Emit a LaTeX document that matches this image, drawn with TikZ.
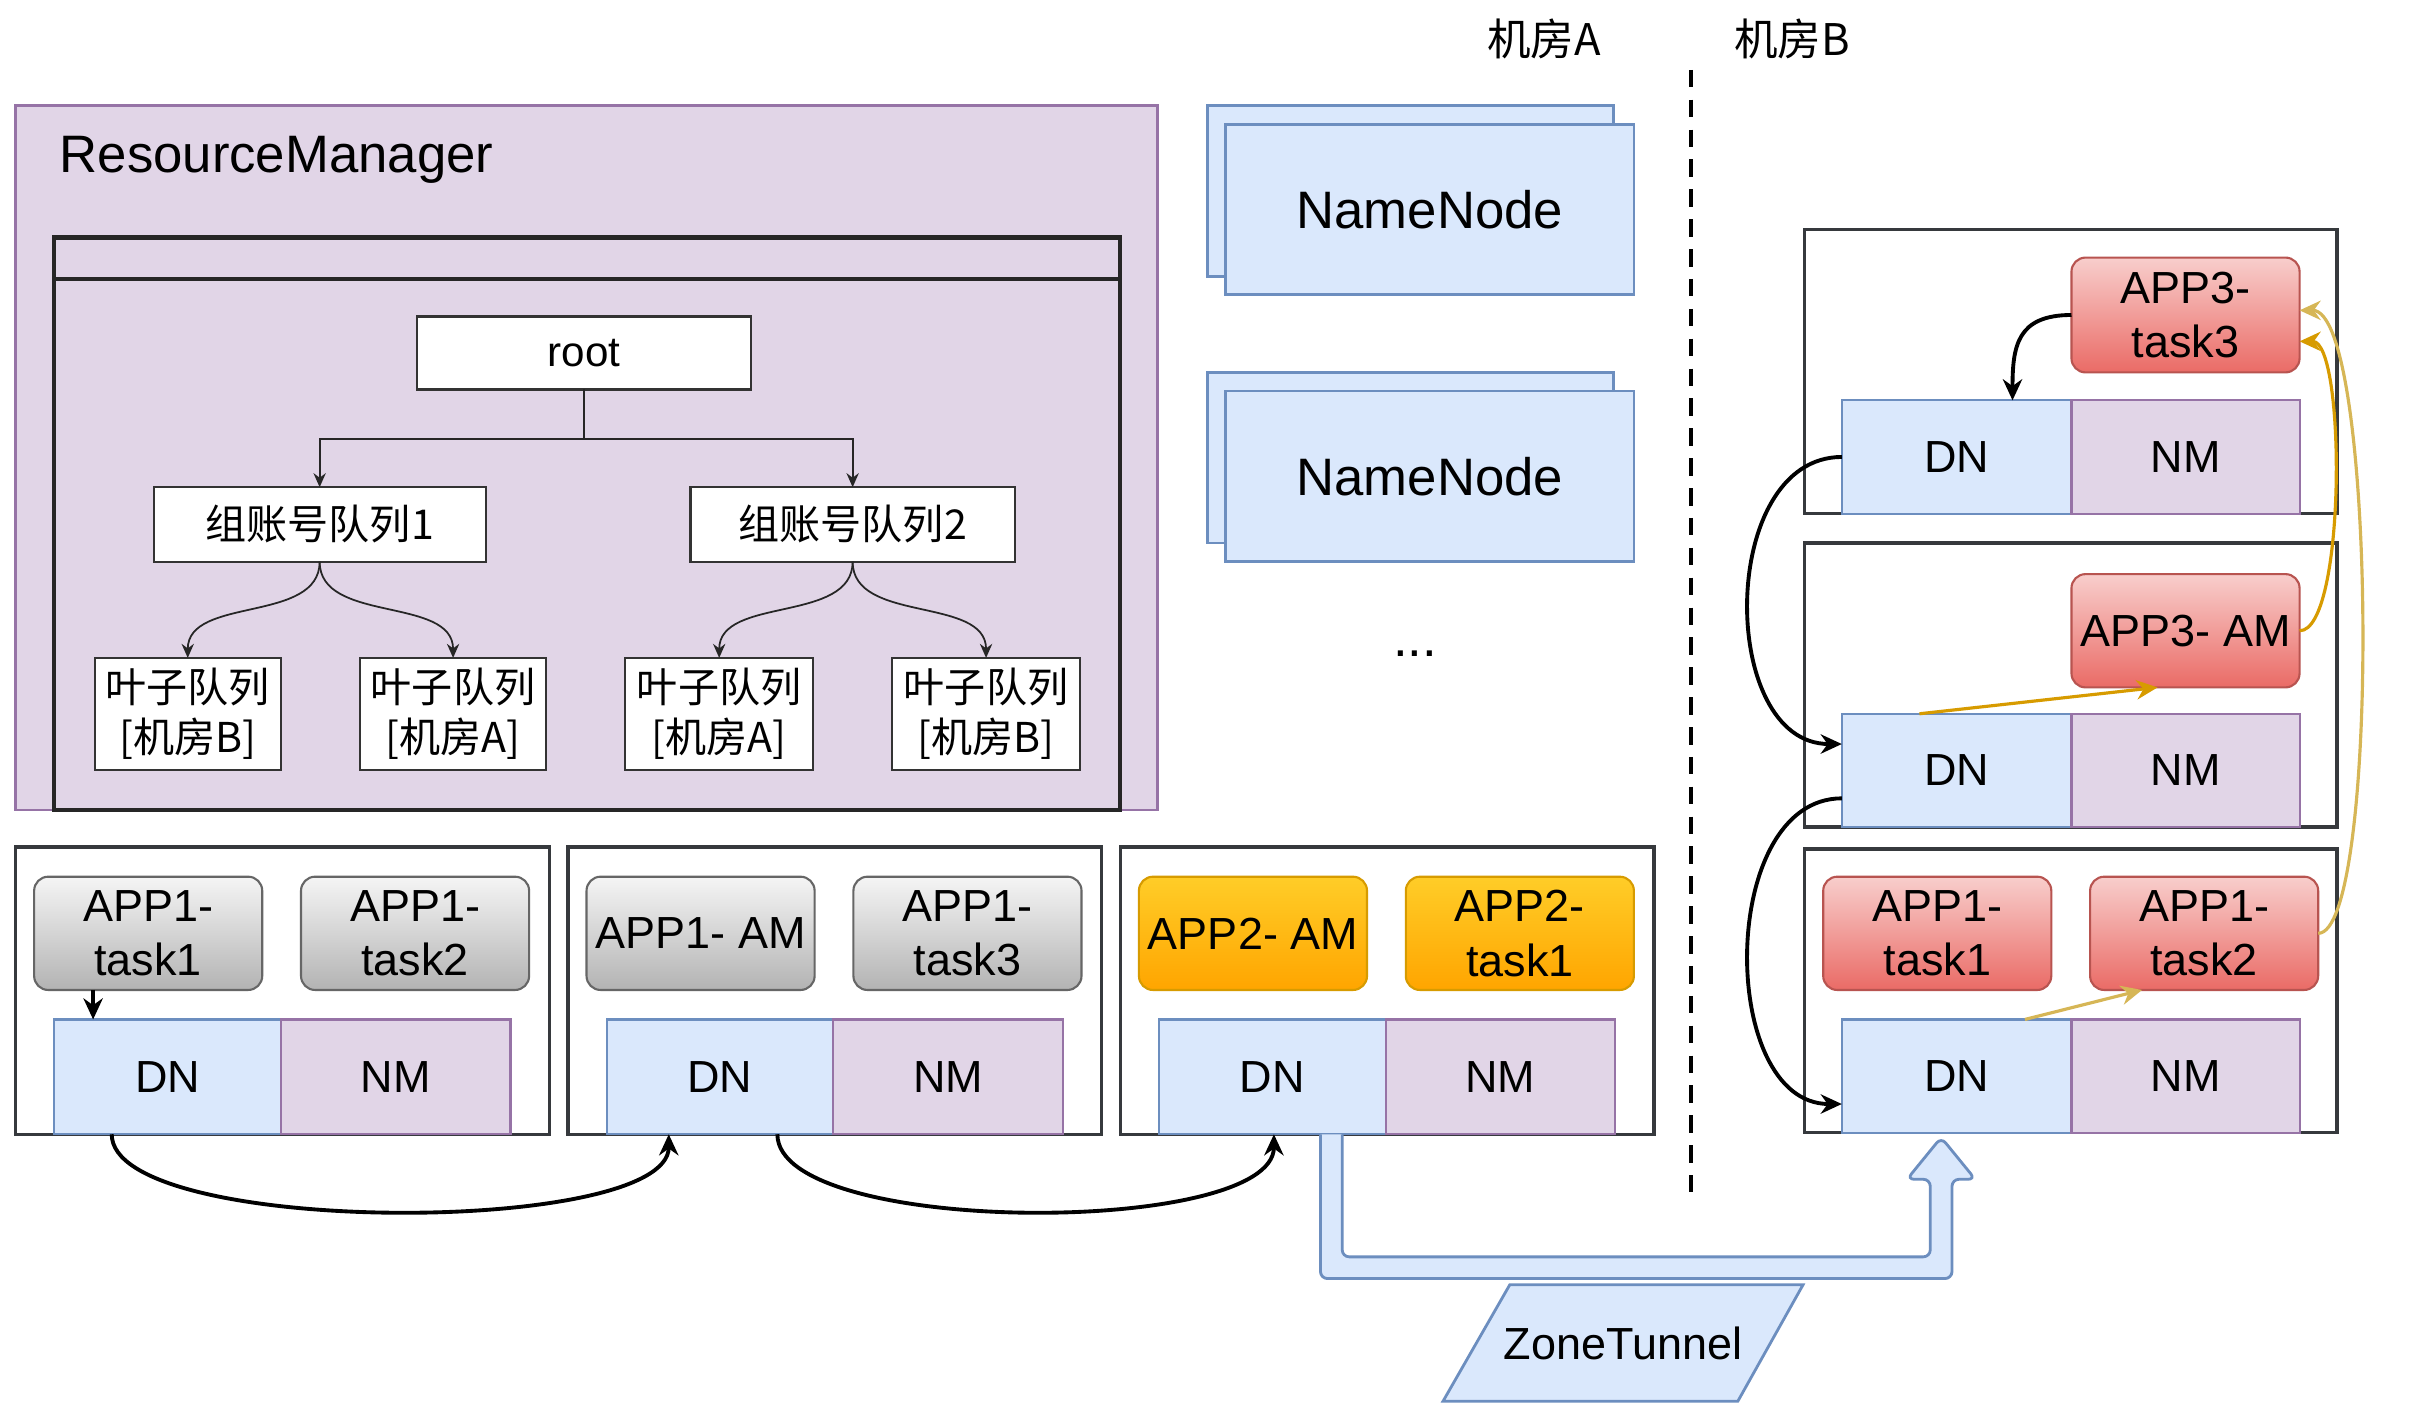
\documentclass[tikz,border=0pt]{standalone}
\usepackage{fontspec}
\setmainfont{Liberation Sans}
\newfontfamily\cjk{Noto Sans CJK SC}
\usepackage{tikz}
\usetikzlibrary{arrows.meta, calc, fit, positioning}
\definecolor{rmfill}{HTML}{E1D5E7}
\definecolor{rmline}{HTML}{9673A6}
\definecolor{dnfill}{HTML}{DAE8FC}
\definecolor{dnline}{HTML}{6C8EBF}
\definecolor{grayhi}{HTML}{F5F5F5}
\definecolor{graylo}{HTML}{B3B3B3}
\definecolor{grayline}{HTML}{666666}
\definecolor{redhi}{HTML}{F8CECC}
\definecolor{redlo}{HTML}{EA6B66}
\definecolor{redline}{HTML}{B85450}
\definecolor{orahi}{HTML}{FFCD28}
\definecolor{oralo}{HTML}{FFA500}
\definecolor{oraline}{HTML}{D79B00}
\definecolor{yelline}{HTML}{D6B656}
\definecolor{hostline}{HTML}{36393D}

\tikzset{
	box/.style={inner sep=0pt, outer sep=0pt},
	txt/.style={label={[font=\fontsize{12.8}{15.5}\selectfont, align=center]center:{#1}}},
	bigtxt/.style={label={[font=\fontsize{15}{18}\selectfont]center:{#1}}},
	qtxt/.style={label={[font=\cjk\fontsize{11.7}{14.1}\selectfont, align=center]center:{#1}}},
	host/.style={box, draw=hostline, line width=1pt, fill=white},
	dnbox/.style={box, draw=dnline, fill=dnfill, line width=0.6pt},
	nmbox/.style={box, draw=rmline, fill=rmfill, line width=0.6pt},
	appbox/.style={box, rounded corners=4pt, line width=0.6pt},
	appgray/.style={appbox, draw=grayline, top color=grayhi, bottom color=graylo},
	appred/.style={appbox, draw=redline, top color=redhi, bottom color=redlo},
	appora/.style={appbox, draw=oraline, top color=orahi, bottom color=oralo},
	qbox/.style={box, draw=black!80, fill=white, line width=0.6pt},
	arr/.style={-{Stealth[length=6pt, width=5.5pt]}, line width=1.1pt},
	qarr/.style={-{Stealth[length=4pt, width=3.5pt]}, line width=0.5pt, black!85}
}

\begin{document}
\begin{tikzpicture}[x=0.015517cm, y=-0.015517cm]
	\useasboundingbox (0,0) rectangle (1568,905);

	% ResourceManager and queue tree
	\node[box, draw=rmline, fill=rmfill, line width=0.8pt, fit={(10,68) (746,522)}] (rm) {};
	\node[anchor=west, inner sep=0pt, font=\fontsize{15}{18}\selectfont] (rmtitle) at (38,103) {ResourceManager};
	\node[box, draw=black!85, line width=1.2pt, fit={(35,153) (722,522)}] (lane) {};
	\draw[black!85, line width=1.2pt] ($(lane.north west)+(0,27)$) -- ($(lane.north east)+(0,27)$);

	\node[qbox, fit={(269,204) (484,251)}, label={[font=\fontsize{12}{14}\selectfont]center:root}] (root) {};
	\node[qbox, fit={(99,314) (313,362)}, qtxt=组账号队列1] (grp1) {};
	\node[qbox, fit={(445,314) (654,362)}, qtxt=组账号队列2] (grp2) {};
	\node[qbox, fit={(61,424) (181,496)}, qtxt={叶子队列\\{[}机房B{]}}] (leaf1) {};
	\node[qbox, fit={(232,424) (352,496)}, qtxt={叶子队列\\{[}机房A{]}}] (leaf2) {};
	\node[qbox, fit={(403,424) (524,496)}, qtxt={叶子队列\\{[}机房A{]}}] (leaf3) {};
	\node[qbox, fit={(575,424) (696,496)}, qtxt={叶子队列\\{[}机房B{]}}] (leaf4) {};

	\draw[qarr] (root.south) -- ++(0,32) -| (grp1.north);
	\draw[qarr] (root.south) -- ++(0,32) -| (grp2.north);
	\draw[qarr] (grp1.south) .. controls +(0,40) and +(0,-40) .. (leaf1.north);
	\draw[qarr] (grp1.south) .. controls +(0,40) and +(0,-40) .. (leaf2.north);
	\draw[qarr] (grp2.south) .. controls +(0,40) and +(0,-40) .. (leaf3.north);
	\draw[qarr] (grp2.south) .. controls +(0,40) and +(0,-40) .. (leaf4.north);

	% NameNodes
	\foreach \i/\y in {1/68, 2/240}{
		\node[box, draw=dnline, fill=dnfill, line width=0.8pt, fit={(778,\y) (1040,\y+110)}] (nnback\i) {};
		\node[box, draw=dnline, fill=dnfill, line width=0.8pt, fit={(790,\y+12) (1053,\y+122)},
			bigtxt=NameNode] (nn\i) {};
	}
	\node[font=\fontsize{15}{18}\selectfont] (more) at (912,421) {...};

	% zones
	\node[font=\cjk\fontsize{12.4}{15}\selectfont] (zoneA) at (995,25) {机房A};
	\node[font=\cjk\fontsize{12.4}{15}\selectfont] (zoneB) at (1155,25) {机房B};
	\coordinate (sepTop) at (1090,45);
	\coordinate (sepBot) at (1090,768);
	\draw[line width=1.2pt, dash pattern=on 5pt off 3.5pt] (sepTop) -- (sepBot);

	% hosts in zone A
	\foreach \i/\x/\sty/\ta/\tb in {1/10/appgray/{APP1-\\task1}/{APP1-\\task2},
			2/366/appgray/{APP1- AM}/{APP1-\\task3}, 3/722/appora/{APP2- AM}/{APP2-\\task1}}{
		\node[host, fit={(\x,546) (\x+344,731)}] (host\i) {};
		\node[dnbox, fit={(\x+25,657) (\x+171,731)}, txt=DN] (dn\i) {};
		\node[nmbox, fit={(\x+171,657) (\x+319,731)}, txt=NM] (nm\i) {};
		\node[\sty, fit={(\x+12,565) (\x+159,638)}, txt=\ta] (appA\i) {};
		\node[\sty, fit={(\x+184,565) (\x+331,638)}, txt=\tb] (appB\i) {};
	}

	% hosts in zone B
	\foreach \i/\y in {4/148, 5/350, 6/547}{
		\node[host, fit={(1163,\y) (1506,\y+183)}] (host\i) {};
		\node[dnbox, fit={(1187,\y+110) (1335,\y+183)}, txt=DN] (dn\i) {};
		\node[nmbox, fit={(1335,\y+110) (1482,\y+183)}, txt=NM] (nm\i) {};
	}
	\node[appred, fit={(1335,166) (1482,240)}, txt={APP3-\\task3}] (appT) {};
	\node[appred, fit={(1335,370) (1482,443)}, txt={APP3- AM}] (appM) {};
	\node[appred, fit={(1175,565) (1322,638)}, txt={APP1-\\task1}] (appA6) {};
	\node[appred, fit={(1347,565) (1494,638)}, txt={APP1-\\task2}] (appB6) {};

	% data flow
	\draw[arr] ($(appA1.south west)+(38,0)$) -- ($(dn1.north west)+(25,0)$);
	\draw[arr] ($(dn1.south west)+(37,0)$) .. controls +(0,66) and +(0,66) .. ($(dn2.south west)+(40,0)$);
	\draw[arr] ($(dn2.south west)+(110,0)$) .. controls +(0,66) and +(0,66) .. ($(dn3.south west)+(74,0)$);
	\draw[arr] (appT.west) .. controls +(-35,0) and +(0,-35) .. ($(dn4.north west)+(110,0)$);
	\draw[arr] (dn4.west) .. controls +(-80,0) and +(-80,0) .. ($(dn5.west)+(0,-17)$);
	\draw[arr] ($(dn5.west)+(0,18)$) .. controls +(-80,0) and +(-80,0) .. ($(dn6.west)+(0,18)$);
	\draw[arr, oraline, line width=0.9pt] ($(dn5.north west)+(50,0)$) -- ($(appM.south)+(-18,0)$);
	\draw[arr, oraline, line width=0.9pt] (appM.east) .. controls +(30,0) and +(30,0) .. ($(appT.east)+(0,17)$);
	\draw[arr, yelline, line width=0.9pt] (appB6.east) .. controls +(40,0) and +(50,0) .. ($(appT.east)+(0,-3)$);
	\draw[arr, yelline, line width=0.9pt] ($(dn6.north west)+(118,0)$) -- ($(appB6.south)+(-40,0)$);

	% ZoneTunnel
	\coordinate (ztA) at ($(dn3.south west)+(111,0)$);
	\draw[draw=dnline, fill=dnfill, line width=0.8pt, rounded corners=2pt]
		($(ztA)+(-7,0)$) -- ++(0,93) -- ++(407,0) -- ++(0,-64) -- ++(15,0) -- ++(-22,-27)
		-- ++(-22,27) -- ++(15,0) -- ++(0,50) -- ++(-379,0) -- ++(0,-79);
	\draw[draw=dnline, fill=dnfill, line width=0.8pt] (973,828) -- (1162,828) -- (1120,903) -- (930,903) -- cycle;
	\node[font=\fontsize{12.8}{15.5}\selectfont] (zt) at (1046,866) {ZoneTunnel};
\end{tikzpicture}
\end{document}
